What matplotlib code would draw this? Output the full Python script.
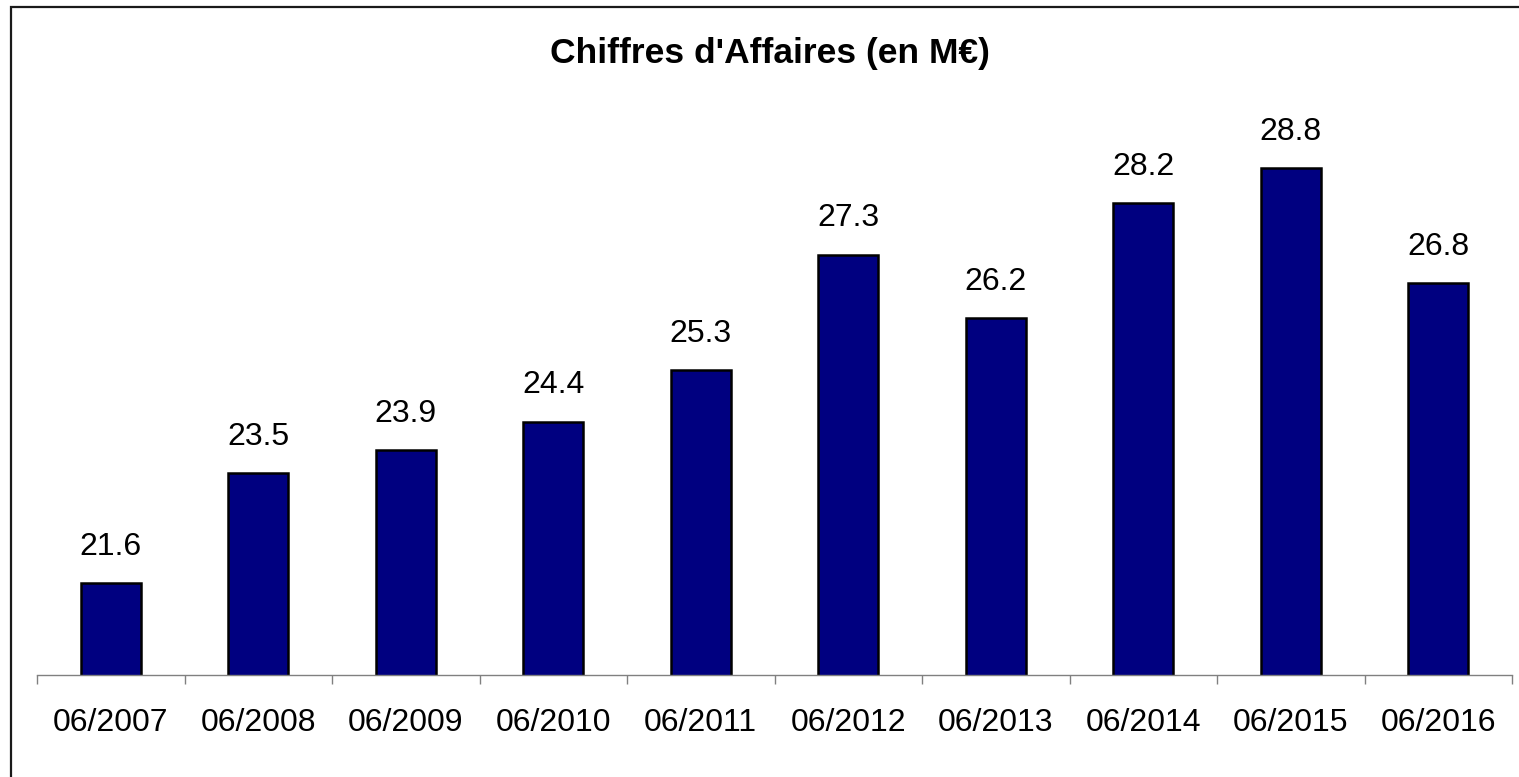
import numpy as np
import matplotlib.pyplot as plt
from matplotlib.patches import Rectangle

plt.rcParams['font.family'] = ['Liberation Sans', 'DejaVu Sans']

# data
periods = ['06/2007', '06/2008', '06/2009', '06/2010', '06/2011',
           '06/2012', '06/2013', '06/2014', '06/2015', '06/2016']
revenue = [21.6, 23.5, 23.9, 24.4, 25.3, 27.3, 26.2, 28.2, 28.8, 26.8]

fig = plt.figure(figsize=(15.19, 7.77), dpi=100)
ax = fig.add_axes([37 / 1519, 102 / 777, 1475 / 1519, 576 / 777])

x = np.arange(len(periods))
bars = ax.bar(x, revenue, width=0.41, color='#000080', edgecolor='black',
              linewidth=1.8, zorder=2)

for xi, v in zip(x, revenue):
    ax.annotate(f'{v:.1f}', (xi, v), xytext=(0, 26), textcoords='offset points',
                ha='center', va='center', fontsize=23)

ax.set_xlim(-0.5, len(periods) - 0.5)
ax.set_ylim(20, 30)

# ticks between categories, labels centred under the bars
ax.set_xticks(np.arange(-0.5, len(periods), 1.0))
ax.set_xticklabels([])
ax.set_xticks(x, minor=True)
ax.set_xticklabels(periods, minor=True, fontsize=23)
ax.tick_params(axis='x', which='major', length=6.5, width=1, color='#808080', direction='out')
ax.tick_params(axis='x', which='minor', length=0, pad=24)

ax.set_yticks([])
for side in ['left', 'right', 'top']:
    ax.spines[side].set_visible(False)
ax.spines['bottom'].set_color('#808080')
ax.spines['bottom'].set_linewidth(1)

fig.text(770 / 1519, 1 - 54 / 777, "Chiffres d'Affaires (en M€)", ha='center',
         va='center', fontsize=25.5, fontweight='bold')

# chart area border (cropped on right and bottom in the original)
fig.patches.append(Rectangle((11 / 1519, -0.05), 1.1, 1 - 7 / 777 + 0.05,
                             transform=fig.transFigure, fill=False,
                             edgecolor='#1a1a1a', linewidth=1.6))

fig.savefig('out.png', dpi=100)
